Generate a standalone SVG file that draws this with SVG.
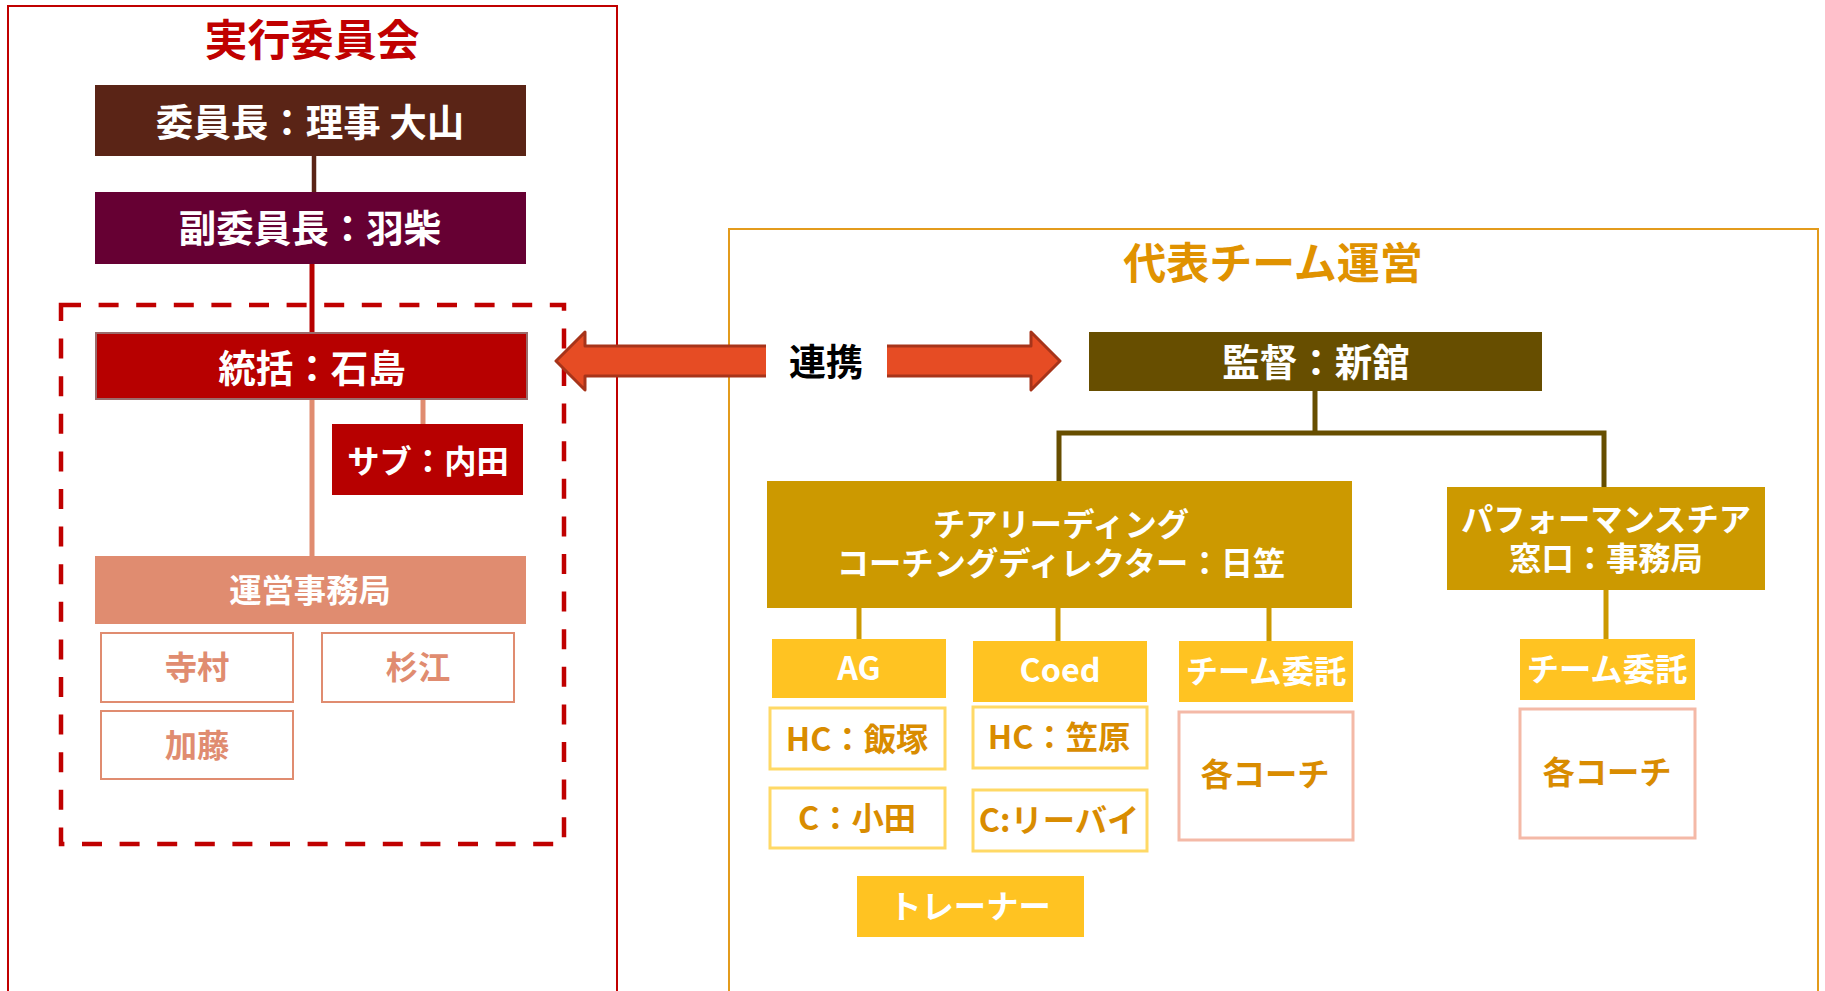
<svg xmlns="http://www.w3.org/2000/svg" width="1825" height="991" viewBox="0 0 1825 991">
<style>
text{font-family:"Noto Sans CJK JP","Noto Sans CJK SC",sans-serif;font-weight:bold;text-anchor:middle}
.w{fill:#ffffff}
.big{font-size:37.5px}
.mid{font-size:32.3px}
.title{font-size:43px}
.sal{fill:#E08C70}
.org{fill:#D98C00}
.box-sal{fill:#ffffff;stroke:#E08C70;stroke-width:2}
.box-yel{fill:#ffffff;stroke:#FFD966;stroke-width:3}
.box-pink{fill:#ffffff;stroke:#F4B9A7;stroke-width:3}
.yel{fill:#FFC322}
.gold{fill:#CC9900}
</style>
<rect width="1825" height="991" fill="#ffffff"/>

<!-- frames -->
<g id="frame-exec">
<rect x="8" y="6" width="609" height="1000" fill="none" stroke="#C00000" stroke-width="2"/>
<text x="312" y="56" class="title" fill="#C00000">実行委員会</text>
</g>
<g id="frame-team">
<rect x="729" y="229" width="1089" height="800" fill="none" stroke="#E39B1C" stroke-width="2"/>
<text x="1273" y="279" class="title" fill="#E09200">代表チーム運営</text>
</g>
<g id="dashed-group">
<rect x="61" y="305" width="503" height="539" fill="none" stroke="#C00000" stroke-width="4.5" stroke-dasharray="20 17.6"/>
</g>

<!-- connectors -->
<g id="connectors" fill="none">
<line x1="314" y1="156" x2="314" y2="192" stroke="#5A2416" stroke-width="4.5"/>
<line x1="312" y1="264" x2="312" y2="333" stroke="#B70000" stroke-width="5"/>
<line x1="312" y1="399" x2="312" y2="556" stroke="#E08C70" stroke-width="5"/>
<line x1="423" y1="399" x2="423" y2="424" stroke="#E08C70" stroke-width="5"/>
<polyline points="1059,481 1059,433 1604,433 1604,487" stroke="#674E00" stroke-width="5"/>
<line x1="1315" y1="391" x2="1315" y2="433" stroke="#674E00" stroke-width="5"/>
<line x1="859" y1="608" x2="859" y2="639" stroke="#CC9900" stroke-width="5"/>
<line x1="1058" y1="608" x2="1058" y2="641" stroke="#CC9900" stroke-width="5"/>
<line x1="1269" y1="608" x2="1269" y2="641" stroke="#CC9900" stroke-width="5"/>
<line x1="1606" y1="590" x2="1606" y2="639" stroke="#CC9900" stroke-width="5"/>
</g>

<!-- collaboration arrow -->
<g id="link-arrow">
<polygon points="556,361 585,332 585,346 1031,346 1031,332 1060,361 1031,390 1031,376 585,376 585,390" fill="#E64C24" stroke="#A7341A" stroke-width="3" stroke-linejoin="round"/>
<rect x="766" y="340" width="121" height="44" fill="#ffffff"/>
<text x="826" y="376" font-size="37" fill="#000000">連携</text>
</g>

<!-- left nodes -->
<g id="chair">
<rect x="95" y="85" width="431" height="71" fill="#5A2416"/>
<text x="310" y="135.5" class="big w">委員長：理事 大山</text>
</g>
<g id="vice-chair">
<rect x="95" y="192" width="431" height="72" fill="#660033"/>
<text x="310" y="241.5" class="big w">副委員長：羽柴</text>
</g>
<g id="general">
<rect x="96" y="333" width="431" height="66" fill="#B70000" stroke="#9B6B6B" stroke-width="2"/>
<text x="312" y="381.5" class="big w">統括：石島</text>
</g>
<g id="sub">
<rect x="332" y="424" width="191" height="71" fill="#B70000"/>
<text x="428" y="472.5" class="mid w">サブ：内田</text>
</g>
<g id="office">
<rect x="95" y="556" width="431" height="68" fill="#E08C70"/>
<text x="310" y="601.5" class="mid w">運営事務局</text>
</g>
<g id="teramura">
<rect x="101" y="633" width="192" height="69" class="box-sal"/>
<text x="197" y="678.5" class="mid sal">寺村</text>
</g>
<g id="sugie">
<rect x="322" y="633" width="192" height="69" class="box-sal"/>
<text x="418" y="678.5" class="mid sal">杉江</text>
</g>
<g id="kato">
<rect x="101" y="711" width="192" height="68" class="box-sal"/>
<text x="197" y="756.5" class="mid sal">加藤</text>
</g>

<!-- right nodes -->
<g id="director">
<rect x="1089" y="332" width="453" height="59" fill="#674E00"/>
<text x="1316" y="375.5" class="big w">監督：新舘</text>
</g>
<g id="cheer-director">
<rect x="767" y="481" width="585" height="127" class="gold"/>
<text x="1061" y="535.5" class="mid w">チアリーディング</text>
<text x="1061" y="574.5" class="mid w">コーチングディレクター：日笠</text>
</g>
<g id="performance">
<rect x="1447" y="487" width="318" height="103" class="gold"/>
<text x="1606" y="530.5" class="mid w">パフォーマンスチア</text>
<text x="1606" y="569.5" class="mid w">窓口：事務局</text>
</g>
<g id="ag">
<rect x="772" y="639" width="174" height="59" class="yel"/>
<text x="859" y="679.5" class="mid w">AG</text>
</g>
<g id="coed">
<rect x="973" y="641" width="174" height="61" class="yel"/>
<text x="1060" y="681.5" class="mid w">Coed</text>
</g>
<g id="team-left">
<rect x="1179" y="641" width="174" height="61" class="yel"/>
<text x="1266" y="682.5" class="mid w">チーム委託</text>
</g>
<g id="hc-iizuka">
<rect x="770" y="708" width="175" height="61" class="box-yel"/>
<text x="857" y="750.5" class="mid org">HC：飯塚</text>
</g>
<g id="hc-kasahara">
<rect x="973" y="707" width="174" height="61" class="box-yel"/>
<text x="1059" y="748.5" class="mid org">HC：笠原</text>
</g>
<g id="c-oda">
<rect x="770" y="788" width="175" height="60" class="box-yel"/>
<text x="857" y="829.5" class="mid org">C：小田</text>
</g>
<g id="c-levi">
<rect x="973" y="790" width="174" height="61" class="box-yel"/>
<text x="1059" y="831.5" class="mid org">C:リーバイ</text>
</g>
<g id="coaches-left">
<rect x="1179" y="712" width="174" height="128" class="box-pink"/>
<text x="1265" y="785.5" class="mid org">各コーチ</text>
</g>
<g id="trainer">
<rect x="857" y="876" width="227" height="61" class="yel"/>
<text x="970" y="917.5" class="mid w">トレーナー</text>
</g>
<g id="team-right">
<rect x="1520" y="639" width="175" height="61" class="yel"/>
<text x="1607" y="680.5" class="mid w">チーム委託</text>
</g>
<g id="coaches-right">
<rect x="1520" y="709" width="175" height="129" class="box-pink"/>
<text x="1607" y="783.5" class="mid org">各コーチ</text>
</g>
</svg>
